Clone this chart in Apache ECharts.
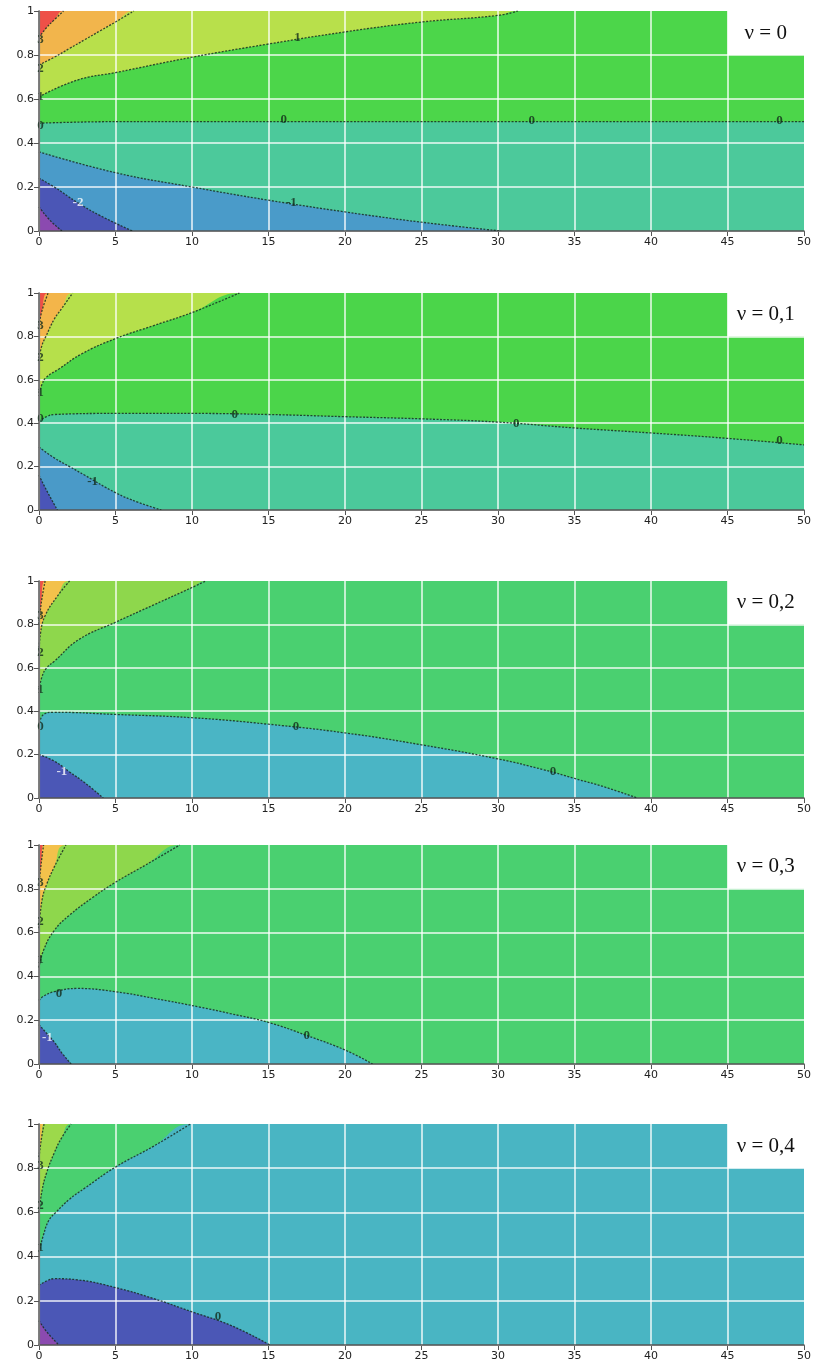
<!DOCTYPE html>
<html>
<head>
<meta charset="utf-8">
<script src="https://cdn.jsdelivr.net/npm/echarts@6/dist/echarts.min.js"></script>
<style>
  html, body { margin: 0; padding: 0; background: #fff; }
  #chart { width: 828px; height: 1372px; }
</style>
</head>
<body>
<div id="chart"></div>
<script>
// panel titles
var nuLabels = ['ν = 0', 'ν = 0,1', 'ν = 0,2', 'ν = 0,3', 'ν = 0,4'];

// ---- ν = 0 : contour lines [x, y], from top level to bottom level
var nu0_c3  = [[0,0.88],[0.5,0.925],[1,0.96],[1.6,1]];
var nu0_c2  = [[0,0.755],[1,0.79],[2,0.83],[3,0.87],[4,0.91],[5,0.95],[6.2,1]];
var nu0_c1  = [[0,0.61],[2.5,0.686],[5,0.72],[10,0.79],[15,0.85],[20,0.905],[25,0.95],[30,0.98],[31.3,1]];
var nu0_c0  = [[0,0.49],[5,0.497],[25,0.497],[50,0.497]];
var nu0_cm1 = [[0,0.36],[5,0.265],[10,0.2],[15,0.14],[20,0.087],[25,0.04],[30.2,0]];
var nu0_cm2 = [[0,0.24],[1,0.2],[2.5,0.13],[4,0.07],[6.1,0]];
var nu0_cm3 = [[0,0.11],[0.7,0.05],[1.5,0]];
var nu0_text  = [[0.1,0.87,'3'],[0.1,0.74,'2'],[0.1,0.61,'1'],[0.1,0.48,'0'],[16.9,0.877,'1'],[16,0.505,'0'],[32.2,0.5,'0'],[48.4,0.5,'0'],[16.5,0.127,'-1']];
var nu0_textW = [[2.55,0.13,'-2']];

// ---- ν = 0,1
var nu1_c3  = [[0,0.85],[0.2,0.92],[0.6,1]];
var nu1_c2  = [[0,0.7],[0.2,0.76],[0.45,0.8],[1,0.88],[1.5,0.93],[2.2,1]];
var nu1_c1  = [[0,0.54],[0.2,0.58],[0.45,0.61],[1.3,0.65],[2.8,0.72],[5,0.79],[7.5,0.85],[10,0.91],[13.1,1]];
var nu1_c0  = [[0,0.41],[0.5,0.43],[1,0.44],[5,0.445],[10,0.445],[15,0.44],[20,0.43],[25,0.42],[30,0.405],[35,0.378],[40,0.355],[45,0.33],[50,0.3]];
var nu1_cm1 = [[0,0.29],[1,0.24],[2,0.2],[3,0.16],[5,0.08],[6.5,0.035],[8,0]];
var nu1_cm2 = [[0,0.16],[0.5,0.09],[1.2,0]];
var nu1_text  = [[0.1,0.85,'3'],[0.1,0.7,'2'],[0.1,0.54,'1'],[0.1,0.42,'0'],[12.8,0.44,'0'],[31.2,0.4,'0'],[48.4,0.32,'0'],[3.5,0.13,'-1']];
var nu1_textW = [];

// ---- ν = 0,2
var nu2_c3  = [[0,0.8],[0.15,0.9],[0.4,1]];
var nu2_c2  = [[0,0.66],[0.1,0.76],[0.4,0.84],[1.2,0.93],[2,1]];
var nu2_c1  = [[0,0.5],[0.2,0.56],[0.5,0.6],[1,0.63],[2.6,0.73],[5,0.81],[7.5,0.89],[10,0.97],[10.9,1]];
var nu2_c0  = [[0,0.33],[0.3,0.385],[1,0.395],[5,0.385],[10,0.37],[15,0.34],[20,0.3],[25,0.245],[30,0.18],[33,0.13],[35,0.09],[37,0.05],[39.1,0]];
var nu2_cm1 = [[0,0.2],[1,0.17],[2,0.12],[3,0.07],[4.2,0]];
var nu2_text  = [[0.1,0.84,'3'],[0.1,0.67,'2'],[0.1,0.5,'1'],[0.1,0.33,'0'],[16.8,0.33,'0'],[33.6,0.12,'0']];
var nu2_textW = [[1.5,0.12,'-1']];

// ---- ν = 0,3
var nu3_c3  = [[0,0.82],[0.15,0.92],[0.3,1]];
var nu3_c2  = [[0,0.62],[0.2,0.75],[0.5,0.82],[1,0.9],[1.76,1]];
var nu3_c1  = [[0,0.44],[0.3,0.52],[1,0.61],[2,0.68],[3.5,0.76],[5,0.83],[7,0.91],[9.2,1]];
var nu3_c0  = [[0,0.29],[0.3,0.31],[1,0.33],[2.5,0.345],[5,0.33],[7.5,0.3],[10.5,0.26],[12.5,0.23],[15,0.19],[17.5,0.13],[20,0.064],[21.8,0]];
var nu3_cm1 = [[0,0.18],[0.5,0.14],[1,0.1],[1.5,0.05],[2.1,0]];
var nu3_text  = [[0.1,0.83,'3'],[0.1,0.65,'2'],[0.1,0.475,'1'],[1.3,0.32,'0'],[17.5,0.13,'0']];
var nu3_textW = [[0.55,0.12,'-1']];

// ---- ν = 0,4
var nu4_c3  = [[0,0.85],[0.15,0.93],[0.33,1]];
var nu4_c2  = [[0,0.6],[0.2,0.7],[0.5,0.78],[1,0.87],[1.5,0.94],[2.1,1]];
var nu4_c1  = [[0,0.42],[0.3,0.5],[0.65,0.565],[1.1,0.6],[2,0.66],[3,0.71],[5,0.805],[7.5,0.9],[9.9,1]];
var nu4_c0  = [[0,0.27],[0.5,0.29],[1,0.3],[2.5,0.295],[5,0.26],[7.5,0.21],[10,0.15],[12.5,0.09],[15.1,0]];
var nu4_cm1 = [[0,0.11],[0.5,0.06],[1.3,0]];
var nu4_text  = [[0.1,0.81,'3'],[0.1,0.63,'2'],[0.1,0.44,'1'],[11.7,0.13,'0']];
var nu4_textW = [];

// layout + colours (first colour = top region, then region under each line)
var panels = [
  { top: 11,   height: 220, lines: [nu0_c3, nu0_c2, nu0_c1, nu0_c0, nu0_cm1, nu0_cm2, nu0_cm3], text: nu0_text, textW: nu0_textW,
    colors: ['#ee5048','#f2b54c','#b8e04b','#4cd64a','#4cc99b','#4a9bc9','#4b56b6','#8b4ab0'] },
  { top: 293,  height: 217, lines: [nu1_c3, nu1_c2, nu1_c1, nu1_c0, nu1_cm1, nu1_cm2], text: nu1_text, textW: nu1_textW,
    colors: ['#ee5048','#f3b54a','#b6e04b','#4bd54a','#4bc99b','#4a9ac8','#4a55b8'] },
  { top: 581,  height: 217, lines: [nu2_c3, nu2_c2, nu2_c1, nu2_c0, nu2_cm1], text: nu2_text, textW: nu2_textW,
    colors: ['#ee5048','#f3c14b','#8ed74c','#4ad070','#4ab5c5','#4b57b6'] },
  { top: 845,  height: 219, lines: [nu3_c3, nu3_c2, nu3_c1, nu3_c0, nu3_cm1], text: nu3_text, textW: nu3_textW,
    colors: ['#ee5048','#f3c14b','#8ed74c','#4ad070','#4ab5c5','#4b57b6'] },
  { top: 1124, height: 221, lines: [nu4_c3, nu4_c2, nu4_c1, nu4_c0, nu4_cm1], text: nu4_text, textW: nu4_textW,
    colors: ['#f2c04a','#9cd94b','#4ad070','#49b5c3','#4b57b6','#8b4ab0'] }
];

// close an upper line along the top edge so its area fills to x = 50
function toArea(pts) {
  var last = pts[pts.length - 1];
  if (last[1] >= 1 && last[0] < 50) return pts.concat([[50, 1]]);
  return pts;
}

var grid = [], xAxis = [], yAxis = [], series = [];
var tickFont = { fontFamily: 'DejaVu Sans', fontSize: 11, color: '#222' };
var SMOOTH = 0.45;

panels.forEach(function (p, i) {
  grid.push({ left: 39, right: 24, top: p.top, height: p.height, show: true,
              backgroundColor: p.colors[0], borderWidth: 0 });
  // main axes: labels + white split lines drawn above the fills
  xAxis.push({ gridIndex: i, type: 'value', min: 0, max: 50, interval: 5, z: 3,
    axisLine: { show: true, lineStyle: { color: '#555', width: 1.5 } },
    axisTick: { show: true, length: 5, lineStyle: { color: '#555' } },
    axisLabel: Object.assign({ margin: 6 }, tickFont),
    splitLine: { show: true, showMinLine: false, showMaxLine: false, lineStyle: { color: 'rgba(255,255,255,0.9)', width: 1.5 } } });
  yAxis.push({ gridIndex: i, type: 'value', min: 0, max: 1, interval: 0.2, z: 3,
    axisLine: { show: true, lineStyle: { color: '#555', width: 1.5 } },
    axisTick: { show: true, length: 5, lineStyle: { color: '#555' } },
    axisLabel: Object.assign({ margin: 5 }, tickFont),
    splitLine: { show: true, showMinLine: false, showMaxLine: false, lineStyle: { color: 'rgba(255,255,255,0.9)', width: 1.5 } } });
  // frame on top / right
  xAxis.push({ gridIndex: i, type: 'value', min: 0, max: 50, position: 'top', z: 12,
    axisLine: { show: true, lineStyle: { color: '#777', width: 1.2 } },
    axisTick: { show: false }, axisLabel: { show: false }, splitLine: { show: false } });
  yAxis.push({ gridIndex: i, type: 'value', min: 0, max: 1, position: 'right', z: 12,
    axisLine: { show: true, lineStyle: { color: '#777', width: 1.2 } },
    axisTick: { show: false }, axisLabel: { show: false }, splitLine: { show: false } });

  var xi = i * 2, yi = i * 2;
  // filled bands
  p.lines.forEach(function (pts, k) {
    series.push({ type: 'line', xAxisIndex: xi, yAxisIndex: yi, data: toArea(pts),
      smooth: SMOOTH, symbol: 'none', silent: true, z: 1,
      lineStyle: { width: 0 }, areaStyle: { color: p.colors[k + 1], opacity: 1 } });
  });
  // dotted contour lines
  p.lines.forEach(function (pts) {
    series.push({ type: 'line', xAxisIndex: xi, yAxisIndex: yi, data: pts,
      smooth: SMOOTH, symbol: 'none', silent: true, z: 4,
      lineStyle: { color: 'rgba(25,45,35,0.85)', width: 1.3, type: [2, 1.5] } });
  });
  // contour level labels + ν box
  function labelSeries(arr, col, withBox) {
    var s = { type: 'scatter', xAxisIndex: xi, yAxisIndex: yi, symbolSize: 1, silent: true, z: 5,
      itemStyle: { color: 'rgba(0,0,0,0)' },
      data: arr.map(function (t) { return { value: [t[0], t[1]], name: t[2] }; }),
      label: { show: true, position: 'inside', formatter: '{b}', color: col,
               fontFamily: 'Liberation Serif', fontWeight: 'bold', fontSize: 13 } };
    if (withBox) {
      s.markArea = { silent: true, z: 10,
        itemStyle: { color: '#fff', borderWidth: 0 },
        label: { show: true, position: 'inside', color: '#111', fontFamily: 'Liberation Serif', fontSize: 21 },
        data: [[{ name: nuLabels[i], coord: [45, 0.8] }, { coord: [50, 1] }]] };
    }
    return s;
  }
  series.push(labelSeries(p.text, '#122a1a', true));
  series.push(labelSeries(p.textW, '#ffffff', false));
});

var chart = echarts.init(document.getElementById('chart'));
chart.setOption({ animation: false, grid: grid, xAxis: xAxis, yAxis: yAxis, series: series });
</script>
</body>
</html>
